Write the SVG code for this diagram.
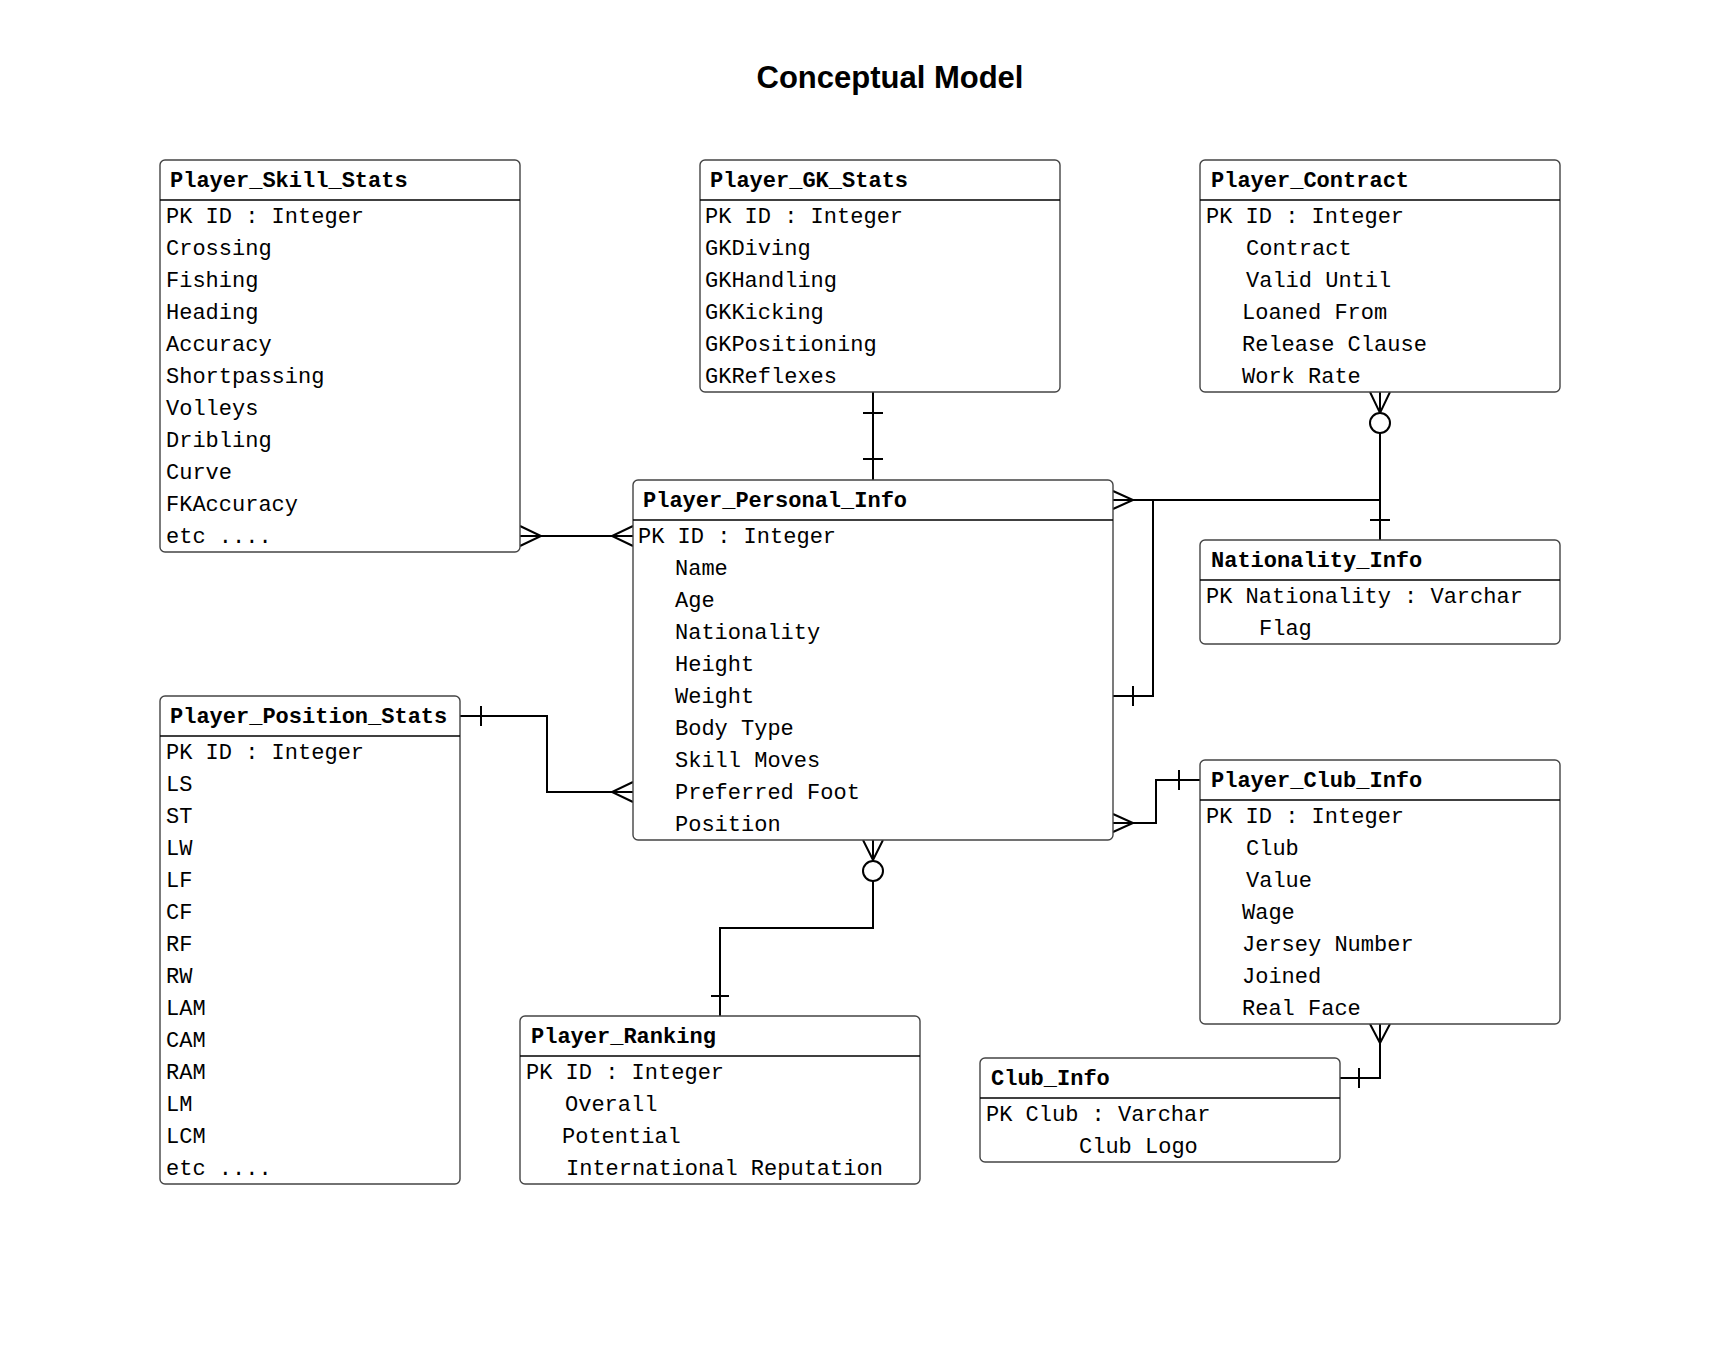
<svg xmlns="http://www.w3.org/2000/svg" width="1711" height="1360" viewBox="0 0 1711 1360">
<style>
.box{fill:#fff;stroke:#444;stroke-width:1.4}
.sep{stroke:#000;stroke-width:1.4}
.hd{font-family:"Liberation Mono","DejaVu Sans Mono",monospace;font-size:22px;font-weight:bold;fill:#000}
.rw{font-family:"Liberation Mono","DejaVu Sans Mono",monospace;font-size:22px;fill:#000}
.ttl{font-family:"Liberation Sans",Arial,sans-serif;font-size:31px;font-weight:bold;fill:#000}
.cn{fill:none;stroke:#000;stroke-width:2}
.circ{fill:#fff;stroke:#000;stroke-width:2}
</style>
<rect width="1711" height="1360" fill="#fff"/>
<text class="ttl" x="890" y="88" text-anchor="middle">Conceptual Model</text>

<g id="connectors">
  <!-- Skill - Personal -->
  <path class="cn" d="M520 536 H633"/>
  <path class="cn" d="M520 526 L541 536 L520 546"/>
  <path class="cn" d="M633 526 L612 536 L633 546"/>
  <!-- GK - Personal -->
  <path class="cn" d="M873 392 V480"/>
  <path class="cn" d="M863 413 H883 M863 459 H883"/>
  <!-- Contract - Nationality -->
  <path class="cn" d="M1380 392 V540"/>
  <path class="cn" d="M1370 392 L1380 413 L1390 392"/>
  <circle class="circ" cx="1380" cy="423" r="10"/>
  <path class="cn" d="M1370 520 H1390"/>
  <!-- Personal - Nationality -->
  <path class="cn" d="M1113 500 H1380"/>
  <path class="cn" d="M1113 491 L1133 500 L1113 509"/>
  <path class="cn" d="M1113 696 H1153 V500"/>
  <path class="cn" d="M1133 686 V706"/>
  <!-- Personal - Club -->
  <path class="cn" d="M1113 823 H1156 V780 H1200"/>
  <path class="cn" d="M1113 814 L1133 823 L1113 832"/>
  <path class="cn" d="M1179 770 V790"/>
  <!-- Position - Personal -->
  <path class="cn" d="M460 716 H547 V792 H633"/>
  <path class="cn" d="M481 706 V726"/>
  <path class="cn" d="M633 782 L612 792 L633 802"/>
  <!-- Personal - Ranking -->
  <path class="cn" d="M873 840 V928 H720 V1016"/>
  <path class="cn" d="M863 840 L873 860 L883 840"/>
  <circle class="circ" cx="873" cy="871" r="10"/>
  <path class="cn" d="M711 996 H729"/>
  <!-- Club - Club_Info -->
  <path class="cn" d="M1380 1024 V1078 H1340"/>
  <path class="cn" d="M1370 1024 L1380 1043 L1390 1024"/>
  <path class="cn" d="M1359 1068 V1088"/>
</g>

<g id="Player_Skill_Stats">
  <rect class="box" x="160" y="160" width="360" height="392" rx="5"/>
  <line class="sep" x1="160" y1="200" x2="520" y2="200"/>
  <text class="hd" x="170" y="187">Player_Skill_Stats</text>
  <text class="rw" x="166" y="223">PK ID : Integer</text>
  <text class="rw" x="166" y="255">Crossing</text>
  <text class="rw" x="166" y="287">Fishing</text>
  <text class="rw" x="166" y="319">Heading</text>
  <text class="rw" x="166" y="351">Accuracy</text>
  <text class="rw" x="166" y="383">Shortpassing</text>
  <text class="rw" x="166" y="415">Volleys</text>
  <text class="rw" x="166" y="447">Dribling</text>
  <text class="rw" x="166" y="479">Curve</text>
  <text class="rw" x="166" y="511">FKAccuracy</text>
  <text class="rw" x="166" y="543">etc ....</text>
</g>

<g id="Player_GK_Stats">
  <rect class="box" x="700" y="160" width="360" height="232" rx="5"/>
  <line class="sep" x1="700" y1="200" x2="1060" y2="200"/>
  <text class="hd" x="710" y="187">Player_GK_Stats</text>
  <text class="rw" x="705" y="223">PK ID : Integer</text>
  <text class="rw" x="705" y="255">GKDiving</text>
  <text class="rw" x="705" y="287">GKHandling</text>
  <text class="rw" x="705" y="319">GKKicking</text>
  <text class="rw" x="705" y="351">GKPositioning</text>
  <text class="rw" x="705" y="383">GKReflexes</text>
</g>

<g id="Player_Contract">
  <rect class="box" x="1200" y="160" width="360" height="232" rx="5"/>
  <line class="sep" x1="1200" y1="200" x2="1560" y2="200"/>
  <text class="hd" x="1211" y="187">Player_Contract</text>
  <text class="rw" x="1206" y="223">PK ID : Integer</text>
  <text class="rw" x="1246" y="255">Contract</text>
  <text class="rw" x="1246" y="287">Valid Until</text>
  <text class="rw" x="1242" y="319">Loaned From</text>
  <text class="rw" x="1242" y="351">Release Clause</text>
  <text class="rw" x="1242" y="383">Work Rate</text>
</g>

<g id="Player_Personal_Info">
  <rect class="box" x="633" y="480" width="480" height="360" rx="5"/>
  <line class="sep" x1="633" y1="520" x2="1113" y2="520"/>
  <text class="hd" x="643" y="507">Player_Personal_Info</text>
  <text class="rw" x="638" y="543">PK ID : Integer</text>
  <text class="rw" x="675" y="575">Name</text>
  <text class="rw" x="675" y="607">Age</text>
  <text class="rw" x="675" y="639">Nationality</text>
  <text class="rw" x="675" y="671">Height</text>
  <text class="rw" x="675" y="703">Weight</text>
  <text class="rw" x="675" y="735">Body Type</text>
  <text class="rw" x="675" y="767">Skill Moves</text>
  <text class="rw" x="675" y="799">Preferred Foot</text>
  <text class="rw" x="675" y="831">Position</text>
</g>

<g id="Nationality_Info">
  <rect class="box" x="1200" y="540" width="360" height="104" rx="5"/>
  <line class="sep" x1="1200" y1="580" x2="1560" y2="580"/>
  <text class="hd" x="1211" y="567">Nationality_Info</text>
  <text class="rw" x="1206" y="603">PK Nationality : Varchar</text>
  <text class="rw" x="1259" y="635">Flag</text>
</g>

<g id="Player_Position_Stats">
  <rect class="box" x="160" y="696" width="300" height="488" rx="5"/>
  <line class="sep" x1="160" y1="736" x2="460" y2="736"/>
  <text class="hd" x="170" y="723">Player_Position_Stats</text>
  <text class="rw" x="166" y="759">PK ID : Integer</text>
  <text class="rw" x="166" y="791">LS</text>
  <text class="rw" x="166" y="823">ST</text>
  <text class="rw" x="166" y="855">LW</text>
  <text class="rw" x="166" y="887">LF</text>
  <text class="rw" x="166" y="919">CF</text>
  <text class="rw" x="166" y="951">RF</text>
  <text class="rw" x="166" y="983">RW</text>
  <text class="rw" x="166" y="1015">LAM</text>
  <text class="rw" x="166" y="1047">CAM</text>
  <text class="rw" x="166" y="1079">RAM</text>
  <text class="rw" x="166" y="1111">LM</text>
  <text class="rw" x="166" y="1143">LCM</text>
  <text class="rw" x="166" y="1175">etc ....</text>
</g>

<g id="Player_Ranking">
  <rect class="box" x="520" y="1016" width="400" height="168" rx="5"/>
  <line class="sep" x1="520" y1="1056" x2="920" y2="1056"/>
  <text class="hd" x="531" y="1043">Player_Ranking</text>
  <text class="rw" x="526" y="1079">PK ID : Integer</text>
  <text class="rw" x="565" y="1111">Overall</text>
  <text class="rw" x="562" y="1143">Potential</text>
  <text class="rw" x="566" y="1175">International Reputation</text>
</g>

<g id="Player_Club_Info">
  <rect class="box" x="1200" y="760" width="360" height="264" rx="5"/>
  <line class="sep" x1="1200" y1="800" x2="1560" y2="800"/>
  <text class="hd" x="1211" y="787">Player_Club_Info</text>
  <text class="rw" x="1206" y="823">PK ID : Integer</text>
  <text class="rw" x="1246" y="855">Club</text>
  <text class="rw" x="1246" y="887">Value</text>
  <text class="rw" x="1242" y="919">Wage</text>
  <text class="rw" x="1242" y="951">Jersey Number</text>
  <text class="rw" x="1242" y="983">Joined</text>
  <text class="rw" x="1242" y="1015">Real Face</text>
</g>

<g id="Club_Info">
  <rect class="box" x="980" y="1058" width="360" height="104" rx="5"/>
  <line class="sep" x1="980" y1="1098" x2="1340" y2="1098"/>
  <text class="hd" x="991" y="1085">Club_Info</text>
  <text class="rw" x="986" y="1121">PK Club : Varchar</text>
  <text class="rw" x="1079" y="1153">Club Logo</text>
</g>
</svg>
